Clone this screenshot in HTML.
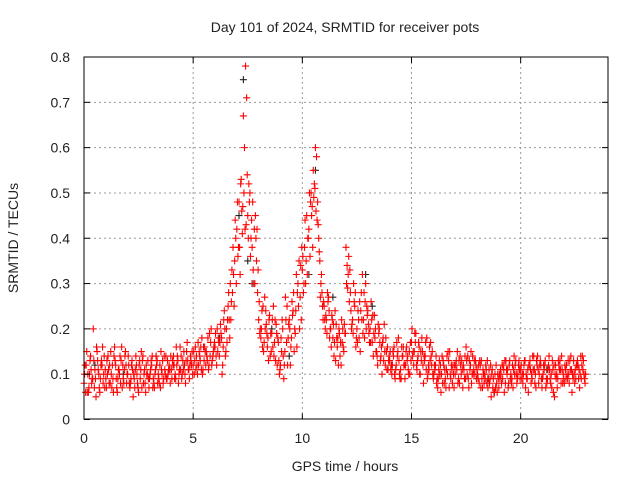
<!DOCTYPE html>
<html><head><meta charset="utf-8"><style>
body{margin:0;background:#fff;}
svg{display:block;font-family:"Liberation Sans",sans-serif;}
</style></head><body>
<svg id="chart" width="640" height="480">
<text x="345" y="32" text-anchor="middle" font-size="14" fill="#222">Day 101 of 2024, SRMTID for receiver pots</text>
<text x="345" y="471" text-anchor="middle" font-size="14" fill="#222">GPS time / hours</text>
<text transform="translate(18,238) rotate(-90)" text-anchor="middle" font-size="14" fill="#222">SRMTID / TECUs</text>
<g id="grid"></g><g id="marks"></g>
<rect x="84" y="57" width="524" height="362" fill="none" stroke="#000" stroke-width="1"/>
<g id="ticks"></g>
</svg>
<script>
const xTicks=[0,5,10,15,20];
const yTicks=[0,0.1,0.2,0.3,0.4,0.5,0.6,0.7,0.8];
const stepHours=0.1;
const seriesA=[.08,.12,.06,.14,.09,.11,.15,.07,.13,.10,
.09,.14,.08,.12,.16,.07,.11,.13,.09,.15,
.10,.07,.13,.09,.12,.06,.11,.14,.08,.10,
.09,.12,.08,.14,.10,.07,.13,.11,.09,.12,
.11,.14,.09,.13,.16,.10,.12,.15,.11,.13,
.12,.16,.10,.14,.18,.13,.15,.11,.17,.14,
.16,.20,.14,.18,.22,.15,.25,.30,.28,.35,
.42,.48,.53,.67,.78,.45,.50,.38,.42,.35,
.22,.18,.25,.20,.16,.23,.19,.14,.21,.17,
.12,.20,.15,.25,.22,.18,.28,.24,.30,.27,
.33,.38,.45,.42,.50,.55,.60,.48,.35,.28,
.25,.22,.27,.20,.18,.24,.16,.19,.22,.15,
.38,.32,.28,.22,.25,.20,.18,.28,.22,.30,
.24,.20,.17,.23,.15,.19,.14,.18,.12,.16,
.13,.10,.16,.12,.18,.11,.14,.09,.13,.15,
.17,.12,.19,.14,.10,.15,.13,.18,.11,.14,
.09,.12,.07,.10,.14,.08,.11,.13,.09,.12,
.10,.15,.08,.13,.11,.16,.09,.12,.14,.10,
.11,.08,.13,.10,.12,.07,.09,.11,.06,.08,
.07,.10,.12,.08,.11,.13,.09,.14,.10,.12,
.11,.08,.13,.09,.12,.10,.14,.07,.11,.13,
.09,.12,.08,.14,.10,.06,.12,.09,.13,.11,
.08,.12,.10,.14,.09,.11,.13,.07,.12,.10];
const seriesB=[.12,.06,.10,.08,.13,.05,.11,.09,.16,.07,
.13,.08,.10,.06,.12,.09,.14,.07,.11,.08,
.12,.09,.05,.11,.08,.13,.07,.10,.12,.09,
.11,.07,.10,.13,.08,.11,.09,.14,.10,.08,
.13,.09,.12,.10,.14,.11,.08,.13,.12,.15,
.10,.14,.12,.16,.11,.15,.13,.19,.12,.16,
.14,.18,.21,.12,.20,.17,.22,.26,.32,.40,
.36,.32,.41,.60,.71,.52,.40,.33,.45,.28,
.19,.24,.17,.21,.13,.19,.16,.22,.12,.10,
.15,.09,.22,.18,.12,.23,.20,.16,.35,.22,
.28,.30,.40,.36,.47,.52,.58,.40,.30,.22,
.20,.28,.18,.23,.14,.21,.12,.17,.20,.19,
.34,.26,.20,.30,.16,.24,.15,.32,.18,.25,
.19,.26,.14,.20,.12,.17,.10,.21,.15,.13,
.11,.15,.09,.14,.10,.16,.12,.15,.11,.17,
.14,.19,.11,.16,.13,.08,.17,.10,.13,.15,
.12,.08,.11,.06,.13,.09,.10,.15,.11,.07,
.13,.09,.12,.07,.14,.10,.13,.08,.11,.12,
.09,.12,.07,.10,.08,.11,.05,.09,.07,.10,
.09,.12,.06,.11,.08,.10,.07,.12,.09,.11,
.09,.12,.10,.06,.11,.14,.08,.12,.10,.09,
.12,.07,.11,.09,.13,.05,.10,.12,.08,.10,
.11,.09,.13,.06,.10,.12,.09,.14,.11,.08];
const seriesC=[.10,.15,.07,.11,.20,.09,.13,.06,.12,.14,
.07,.11,.15,.09,.13,.06,.10,.16,.08,.12,
.14,.08,.11,.07,.10,.12,.15,.08,.06,.13,
.10,.14,.07,.12,.09,.15,.08,.10,.13,.11,
.09,.12,.16,.08,.11,.13,.10,.17,.09,.12,
.15,.11,.17,.13,.10,.16,.14,.12,.20,.15,
.19,.15,.17,.10,.24,.20,.28,.22,.38,.44,
.48,.38,.46,.50,.43,.40,.36,.48,.30,.42,
.26,.20,.15,.24,.18,.14,.22,.17,.19,.13,
.18,.14,.27,.12,.20,.26,.15,.32,.25,.34,
.36,.44,.32,.50,.45,.49,.46,.43,.27,.25,
.22,.19,.24,.16,.21,.13,.18,.14,.17,.21,
.30,.36,.24,.19,.28,.17,.26,.22,.28,.20,
.21,.17,.23,.18,.14,.20,.16,.13,.18,.11,
.15,.12,.10,.17,.13,.09,.16,.12,.14,.10,
.20,.15,.12,.17,.15,.12,.14,.09,.16,.12,
.10,.14,.09,.12,.08,.11,.14,.07,.12,.10,
.12,.08,.14,.11,.09,.13,.07,.15,.10,.13,
.10,.13,.09,.08,.11,.09,.12,.07,.10,.06,
.10,.08,.11,.13,.07,.09,.12,.10,.08,.13,
.12,.10,.07,.11,.13,.09,.11,.13,.08,.12,
.10,.13,.09,.11,.07,.12,.09,.13,.11,.08,
.12,.10,.08,.11,.13,.09,.12,.10,.14,.09];
const seriesD=[.06,.10,.13,.09,.07,.16,.10,.12,.08,.11,
.10,.12,.07,.14,.09,.11,.08,.12,.14,.10,
.08,.12,.10,.14,.07,.09,.13,.11,.10,.07,
.13,.09,.11,.08,.12,.10,.14,.09,.11,.14,
.12,.10,.14,.11,.09,.15,.13,.11,.14,.10,
.13,.12,.15,.11,.16,.12,.18,.14,.13,.17,
.12,.17,.19,.16,.14,.22,.18,.33,.25,.30,
.38,.52,.47,.42,.54,.48,.44,.30,.40,.33,
.20,.16,.27,.19,.22,.15,.25,.13,.18,.11,
.22,.12,.17,.21,.16,.24,.19,.28,.20,.38,
.30,.35,.40,.48,.38,.51,.44,.37,.32,.26,
.23,.26,.20,.22,.17,.18,.20,.12,.16,.19,
.29,.33,.21,.26,.18,.22,.24,.19,.26,.23,
.17,.22,.19,.15,.21,.13,.17,.15,.11,.14,
.12,.14,.11,.15,.09,.14,.12,.16,.10,.13,
.15,.17,.13,.10,.18,.14,.11,.12,.17,.10,
.11,.09,.13,.10,.12,.07,.15,.10,.08,.12,
.11,.13,.10,.12,.09,.14,.11,.10,.13,.09,
.12,.07,.11,.09,.13,.08,.10,.06,.12,.09,
.11,.09,.13,.10,.12,.08,.11,.13,.10,.09,
.10,.13,.09,.12,.08,.11,.10,.14,.12,.07,
.11,.09,.12,.08,.11,.10,.07,.11,.14,.09,
.09,.13,.11,.10,.08,.12,.11,.09,.13,.10];
const blackT=[0.5,1.8,3.3,4.6,6.2,7.1,7.3,7.5,7.7,8.6,9.4,10.3,10.6,11.4,12.9,13.2,14.1,16.3,18.5,21.2];
const blackV=[0.12,0.10,0.14,0.12,0.18,0.45,0.75,0.35,0.30,0.20,0.14,0.32,0.55,0.27,0.32,0.25,0.12,0.10,0.09,0.11];
const NS="http://www.w3.org/2000/svg";
const X0=84,X1=608,Y0=419.5,Y1=57;
function xs(t){return X0+(t/24)*(X1-X0);}
function ys(v){return Y0-(v/0.8)*(Y0-Y1);}
const grid=document.getElementById('grid'),ticks=document.getElementById('ticks'),marks=document.getElementById('marks');
function el(tag,attrs,parent){const e=document.createElementNS(NS,tag);for(const k in attrs)e.setAttribute(k,attrs[k]);parent.appendChild(e);return e;}
xTicks.forEach(t=>{
 const x=xs(t);
 if(t>0){const g=el('line',{x1:x,x2:x,y1:Y1,y2:Y0,stroke:'#999','stroke-dasharray':'2,3'},grid);
 
 }
 el('line',{x1:x,x2:x,y1:Y0,y2:Y0-6,stroke:'#000'},ticks);
 el('line',{x1:x,x2:x,y1:Y1,y2:Y1+6,stroke:'#000'},ticks);
 const tx=el('text',{x:x,y:443,'text-anchor':'middle','font-size':14,fill:'#222'},ticks);
 tx.textContent=t;
 
 
});
yTicks.forEach(v=>{
 const y=ys(v);
 if(v>0&&v<0.8){const g=el('line',{x1:X0,x2:X1,y1:y,y2:y,stroke:'#999','stroke-dasharray':'2,3'},grid);
 
 }
 el('line',{x1:X0,x2:X0+6,y1:y,y2:y,stroke:'#000'},ticks);
 el('line',{x1:X1,x2:X1-6,y1:y,y2:y,stroke:'#000'},ticks);
 const tx=el('text',{x:70,y:y+5,'text-anchor':'end','font-size':14,fill:'#222'},ticks);
 tx.textContent=v===0?'0':v.toFixed(1);
 
 
});
function plus(t,v,color,name){
 const x=xs(t),y=ys(v);
 const p=el('path',{d:`M${x-3.5},${y}H${x+3.5}M${x},${y-3.5}V${y+3.5}`,stroke:color,'stroke-width':1.1,fill:'none'},marks);
 
 
}
blackT.forEach((t,i)=>plus(t,blackV[i],'#222','black-point'));
seriesA.forEach((v,i)=>plus(i*stepHours,v,'#f00','red-point'));
seriesC.forEach((v,i)=>plus(i*stepHours+0.025,v,'#f00','red-point'));
seriesB.forEach((v,i)=>plus(i*stepHours+0.05,v,'#f00','red-point'));
seriesD.forEach((v,i)=>plus(i*stepHours+0.075,v,'#f00','red-point'));
</script>
</body></html>
